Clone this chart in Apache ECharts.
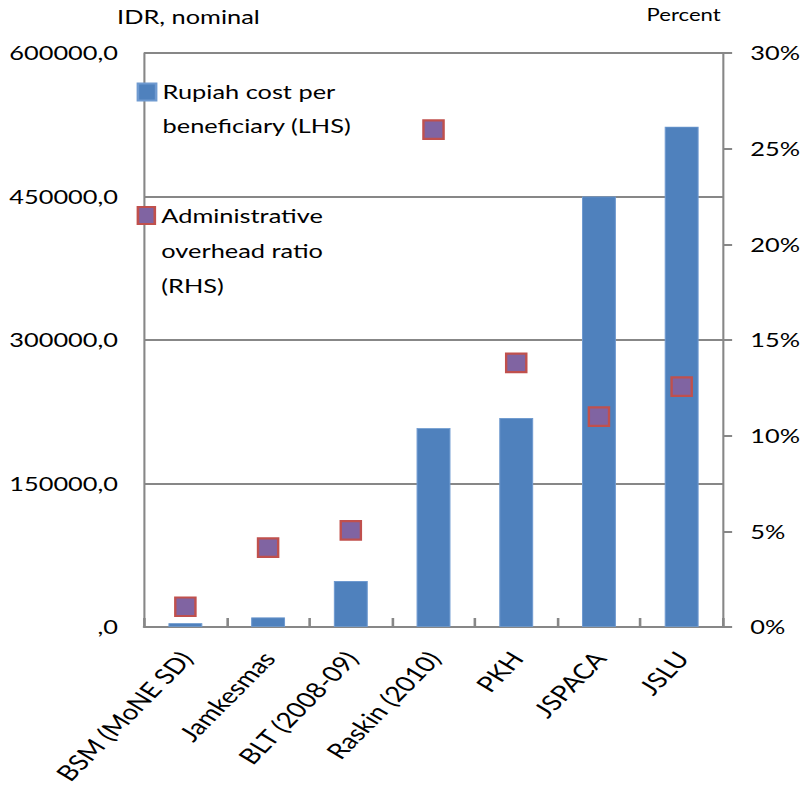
<!DOCTYPE html>
<html>
<head>
<meta charset="utf-8">
<script src="https://cdn.jsdelivr.net/npm/echarts@6/dist/echarts.min.js"></script>
<style>
  html, body { margin: 0; padding: 0; background: #fff; overflow: hidden; }
  /* the chart is laid out on a narrower canvas and widened to the page width */
  #chart { width: 618px; height: 789px; transform-origin: 0 0; transform: scaleX(1.30097); }
</style>
</head>
<body>
<div id="chart"></div>
<script>
// Social assistance programmes
const categories = ['BSM (MoNE SD)', 'Jamkesmas', 'BLT (2008-09)', 'Raskin (2010)', 'PKH', 'JSPACA', 'JSLU'];
// Rupiah cost per beneficiary (IDR, nominal) - left axis
const costPerBeneficiary = [4000, 10000, 48000, 208000, 218500, 450000, 523000];
// Administrative overhead ratio (percent) - right axis
const overheadRatio = [1.06, 4.15, 5.05, 26.0, 13.8, 11.0, 12.56];

const leftTicks = [0, 150000, 300000, 450000, 600000];
const rightTicks = [0, 5, 10, 15, 20, 25, 30];

const costName = 'Rupiah cost per beneficiary (LHS)';
const ratioName = 'Administrative overhead ratio (RHS)';

const FONT = 'Lato';
const GREY = '#878787';

const fmtLeft = v => (v === 0 ? '' : v.toFixed(0)) + ',0';
const fmtRight = v => v + '%';

const chart = echarts.init(document.getElementById('chart'), null, { renderer: 'svg' });

chart.setOption({
  animation: false,
  backgroundColor: '#fff',
  textStyle: { fontFamily: FONT, color: '#000' },
  title: [
    { text: 'IDR, nominal', left: 90, top: 7, padding: 0,
      textStyle: { fontFamily: FONT, fontSize: 19.5, fontWeight: 'normal', color: '#000' } },
    { text: 'Percent', left: 497, top: 6, padding: 0,
      textStyle: { fontFamily: FONT, fontSize: 17, fontWeight: 'normal', color: '#000' } }
  ],
  legend: [
    {
      data: [costName], left: 105, top: 41, padding: 0, orient: 'vertical',
      icon: 'rect', itemWidth: 14, itemHeight: 17,
      formatter: () => '\nRupiah cost per\nbeneficiary (LHS)',
      textStyle: { fontFamily: FONT, fontSize: 19.5, lineHeight: 34, color: '#000' }
    },
    {
      data: [ratioName], left: 105, top: 128, padding: 0, orient: 'vertical',
      icon: 'rect', itemWidth: 13, itemHeight: 17,
      formatter: () => '\n\nAdministrative\noverhead ratio\n(RHS)',
      textStyle: { fontFamily: FONT, fontSize: 19.5, lineHeight: 35, color: '#000' }
    }
  ],
  grid: { left: 110.7, right: 60.7, top: 53, bottom: 162, containLabel: false },
  xAxis: {
    type: 'category',
    data: categories,
    boundaryGap: true,
    axisLine: { show: true, lineStyle: { color: GREY, width: 2 } },
    axisTick: { show: true, inside: true, length: 9, interval: 0, lineStyle: { color: GREY, width: 2 } },
    axisLabel: { interval: 0, rotate: 52.4, margin: 27, fontFamily: FONT, fontSize: 21.5, color: '#000' },
    splitLine: { show: false }
  },
  yAxis: [
    {
      type: 'value', position: 'left',
      min: leftTicks[0], max: leftTicks[leftTicks.length - 1], interval: leftTicks[1] - leftTicks[0],
      axisLine: { show: true, lineStyle: { color: GREY, width: 1.6 } },
      axisTick: { show: false },
      axisLabel: { margin: 20, fontFamily: FONT, fontSize: 19.5, color: '#000', formatter: fmtLeft },
      splitLine: { show: true, lineStyle: { color: GREY, width: 2 } }
    },
    {
      type: 'value', position: 'right',
      min: rightTicks[0], max: rightTicks[rightTicks.length - 1], interval: rightTicks[1] - rightTicks[0],
      axisLine: { show: true, lineStyle: { color: GREY, width: 1.6 } },
      axisTick: { show: true, inside: false, length: 7, lineStyle: { color: GREY, width: 2 } },
      axisLabel: { margin: 21, fontFamily: FONT, fontSize: 19.5, color: '#000', formatter: fmtRight },
      splitLine: { show: false }
    }
  ],
  series: [
    {
      name: costName, type: 'bar', yAxisIndex: 0,
      data: costPerBeneficiary,
      barWidth: '41%',
      itemStyle: { color: '#4f81bd', borderColor: '#6f9ad0', borderWidth: 0.8 }
    },
    {
      name: ratioName, type: 'scatter', yAxisIndex: 1,
      data: overheadRatio,
      symbol: 'rect', symbolSize: [15.5, 18.5],
      itemStyle: { color: '#8064a2', borderColor: '#c0504d', borderWidth: 2, opacity: 1 },
      z: 5
    }
  ]
});
</script>
</body>
</html>
